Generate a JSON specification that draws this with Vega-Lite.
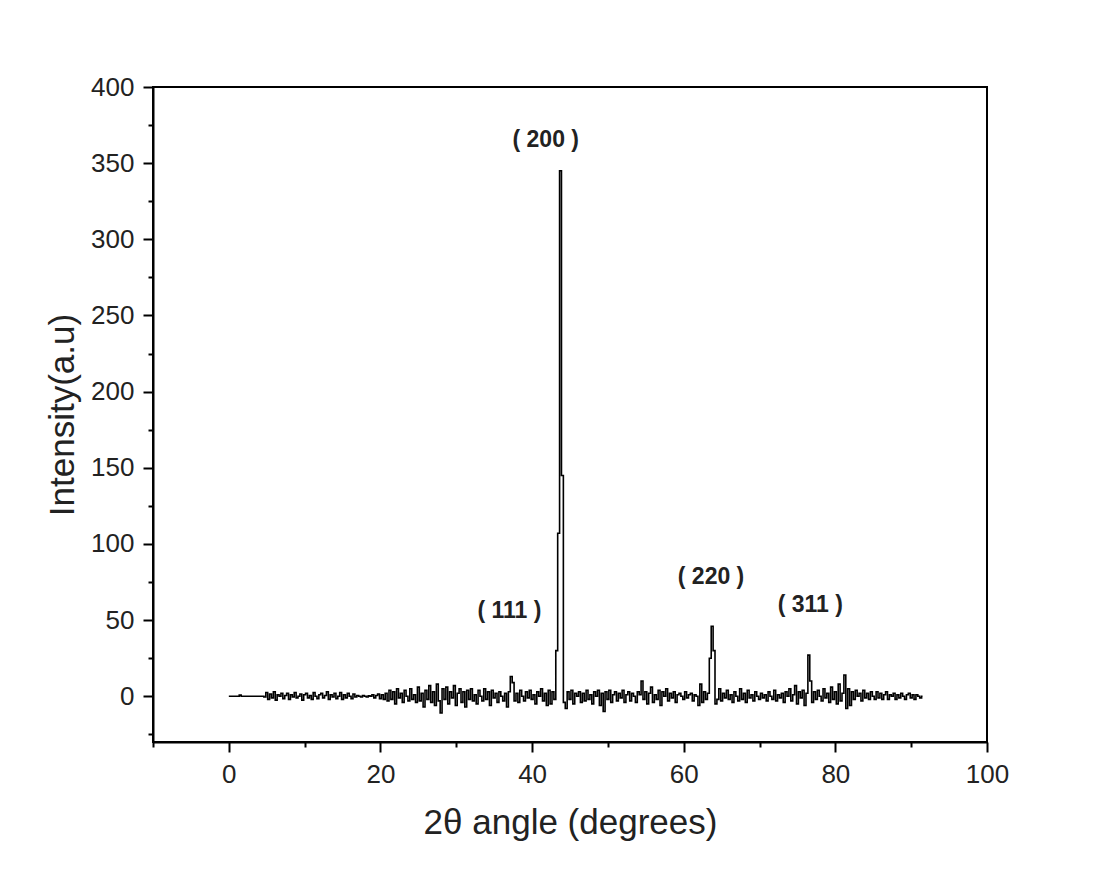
{
  "$schema": "https://vega.github.io/schema/vega-lite/v6.json",
  "width": 834,
  "height": 655,
  "autosize": {"type": "none"},
  "padding": {"left": 153, "top": 87, "right": 107, "bottom": 137},
  "background": "white",
  "config": {
    "view": {"stroke": "black", "strokeWidth": 2},
    "font": "Liberation Sans",
    "axis": {
      "grid": false,
      "domainColor": "black",
      "domainWidth": 2,
      "tickColor": "black",
      "tickWidth": 2,
      "labelColor": "#222",
      "titleColor": "#222",
      "labelFont": "Liberation Sans",
      "titleFont": "Liberation Sans",
      "labelFontSize": 26,
      "titleFontSize": 35,
      "titleFontWeight": "normal",
      "labelPadding": 9,
      "labelOverlap": false,
      "labelFlush": false
    }
  },
  "datasets": {
    "xrd": [
      {"angle":0,"intensity":0},{"angle":0.25,"intensity":0},{"angle":0.5,"intensity":0},{"angle":0.75,"intensity":0},{"angle":1,"intensity":0},{"angle":1.25,"intensity":0},{"angle":1.5,"intensity":0.8},{"angle":1.75,"intensity":0},{"angle":2,"intensity":0},{"angle":2.25,"intensity":0},{"angle":2.5,"intensity":0},{"angle":2.75,"intensity":0},{"angle":3,"intensity":0},{"angle":3.25,"intensity":0},{"angle":3.5,"intensity":0},{"angle":3.75,"intensity":0},{"angle":4,"intensity":0},{"angle":4.25,"intensity":0},{"angle":4.5,"intensity":0},{"angle":4.75,"intensity":-0.5},
      {"angle":5,"intensity":2.5},{"angle":5.25,"intensity":-2},{"angle":5.5,"intensity":1.5},{"angle":5.75,"intensity":-1},{"angle":6,"intensity":3},{"angle":6.25,"intensity":-2.5},{"angle":6.5,"intensity":1},{"angle":6.75,"intensity":0},{"angle":7,"intensity":2},{"angle":7.25,"intensity":-1.5},{"angle":7.5,"intensity":0.5},{"angle":7.75,"intensity":2},{"angle":8,"intensity":-2},{"angle":8.25,"intensity":1},{"angle":8.5,"intensity":-0.5},{"angle":8.75,"intensity":2.5},{"angle":9,"intensity":-1},{"angle":9.25,"intensity":0},{"angle":9.5,"intensity":1.5},{"angle":9.75,"intensity":-2.5},
      {"angle":10,"intensity":1},{"angle":10.25,"intensity":2},{"angle":10.5,"intensity":-1},{"angle":10.75,"intensity":0.5},{"angle":11,"intensity":-2},{"angle":11.25,"intensity":2.5},{"angle":11.5,"intensity":0},{"angle":11.75,"intensity":-1.5},{"angle":12,"intensity":1},{"angle":12.25,"intensity":2},{"angle":12.5,"intensity":-1},{"angle":12.75,"intensity":0.5},{"angle":13,"intensity":3},{"angle":13.25,"intensity":-2},{"angle":13.5,"intensity":1},{"angle":13.75,"intensity":-0.5},{"angle":14,"intensity":2},{"angle":14.25,"intensity":-1.5},{"angle":14.5,"intensity":0},{"angle":14.75,"intensity":2.5},
      {"angle":15,"intensity":-2},{"angle":15.25,"intensity":1},{"angle":15.5,"intensity":-1},{"angle":15.75,"intensity":2},{"angle":16,"intensity":0},{"angle":16.25,"intensity":-1.5},{"angle":16.5,"intensity":1.5},{"angle":16.75,"intensity":-0.5},{"angle":17,"intensity":0.5},{"angle":17.25,"intensity":0},{"angle":17.5,"intensity":-0.5},{"angle":17.75,"intensity":0.5},{"angle":18,"intensity":0},{"angle":18.25,"intensity":-0.5},{"angle":18.5,"intensity":0.3},{"angle":18.75,"intensity":0},{"angle":19,"intensity":1},{"angle":19.25,"intensity":-1},{"angle":19.5,"intensity":0.5},{"angle":19.75,"intensity":1.5},
      {"angle":20,"intensity":-1.5},{"angle":20.25,"intensity":1},{"angle":20.5,"intensity":-2},{"angle":20.75,"intensity":2},{"angle":21,"intensity":-3},{"angle":21.25,"intensity":4},{"angle":21.5,"intensity":-2},{"angle":21.75,"intensity":3},{"angle":22,"intensity":-5},{"angle":22.25,"intensity":5},{"angle":22.5,"intensity":-1},{"angle":22.75,"intensity":2},{"angle":23,"intensity":-4},{"angle":23.25,"intensity":4},{"angle":23.5,"intensity":0},{"angle":23.75,"intensity":-3},{"angle":24,"intensity":5},{"angle":24.25,"intensity":-2},{"angle":24.5,"intensity":1},{"angle":24.75,"intensity":-4},
      {"angle":25,"intensity":6},{"angle":25.25,"intensity":-3},{"angle":25.5,"intensity":2},{"angle":25.75,"intensity":-7},{"angle":26,"intensity":4},{"angle":26.25,"intensity":-2},{"angle":26.5,"intensity":7},{"angle":26.75,"intensity":-4},{"angle":27,"intensity":3},{"angle":27.25,"intensity":-6},{"angle":27.5,"intensity":8},{"angle":27.75,"intensity":-3},{"angle":28,"intensity":-11},{"angle":28.25,"intensity":5},{"angle":28.5,"intensity":-2},{"angle":28.75,"intensity":6},{"angle":29,"intensity":-5},{"angle":29.25,"intensity":3},{"angle":29.5,"intensity":-1},{"angle":29.75,"intensity":7},
      {"angle":30,"intensity":-6},{"angle":30.25,"intensity":2},{"angle":30.5,"intensity":5},{"angle":30.75,"intensity":-4},{"angle":31,"intensity":3},{"angle":31.25,"intensity":-7},{"angle":31.5,"intensity":4},{"angle":31.75,"intensity":-2},{"angle":32,"intensity":5},{"angle":32.25,"intensity":-3},{"angle":32.5,"intensity":1},{"angle":32.75,"intensity":-5},{"angle":33,"intensity":4},{"angle":33.25,"intensity":0},{"angle":33.5,"intensity":-3},{"angle":33.75,"intensity":5},{"angle":34,"intensity":-2},{"angle":34.25,"intensity":3},{"angle":34.5,"intensity":-6},{"angle":34.75,"intensity":4},
      {"angle":35,"intensity":-1},{"angle":35.25,"intensity":2},{"angle":35.5,"intensity":-4},{"angle":35.75,"intensity":3},{"angle":36,"intensity":0},{"angle":36.25,"intensity":-3},{"angle":36.5,"intensity":2},{"angle":36.75,"intensity":-7},{"angle":37,"intensity":3},{"angle":37.25,"intensity":13},{"angle":37.5,"intensity":9},{"angle":37.75,"intensity":-3},{"angle":38,"intensity":2},{"angle":38.25,"intensity":-4},{"angle":38.5,"intensity":4},{"angle":38.75,"intensity":0},{"angle":39,"intensity":-3},{"angle":39.25,"intensity":3},{"angle":39.5,"intensity":-1},{"angle":39.75,"intensity":4},
      {"angle":40,"intensity":-2},{"angle":40.25,"intensity":1},{"angle":40.5,"intensity":-5},{"angle":40.75,"intensity":3},{"angle":41,"intensity":0},{"angle":41.25,"intensity":5},{"angle":41.5,"intensity":-3},{"angle":41.75,"intensity":2},{"angle":42,"intensity":-6},{"angle":42.25,"intensity":4},{"angle":42.5,"intensity":-5},{"angle":42.75,"intensity":3},{"angle":43,"intensity":-2},{"angle":43.25,"intensity":30},{"angle":43.5,"intensity":107},{"angle":43.75,"intensity":345},{"angle":44,"intensity":145},{"angle":44.25,"intensity":-4},{"angle":44.5,"intensity":-8},{"angle":44.75,"intensity":3},
      {"angle":45,"intensity":-2},{"angle":45.25,"intensity":4},{"angle":45.5,"intensity":-5},{"angle":45.75,"intensity":2},{"angle":46,"intensity":0},{"angle":46.25,"intensity":3},{"angle":46.5,"intensity":-4},{"angle":46.75,"intensity":2},{"angle":47,"intensity":-3},{"angle":47.25,"intensity":4},{"angle":47.5,"intensity":-2},{"angle":47.75,"intensity":1},{"angle":48,"intensity":-5},{"angle":48.25,"intensity":3},{"angle":48.5,"intensity":0},{"angle":48.75,"intensity":4},{"angle":49,"intensity":-6},{"angle":49.25,"intensity":2},{"angle":49.5,"intensity":-10},{"angle":49.75,"intensity":3},
      {"angle":50,"intensity":-2},{"angle":50.25,"intensity":4},{"angle":50.5,"intensity":-4},{"angle":50.75,"intensity":1},{"angle":51,"intensity":3},{"angle":51.25,"intensity":-3},{"angle":51.5,"intensity":2},{"angle":51.75,"intensity":-1},{"angle":52,"intensity":4},{"angle":52.25,"intensity":-4},{"angle":52.5,"intensity":1},{"angle":52.75,"intensity":3},{"angle":53,"intensity":-3},{"angle":53.25,"intensity":2},{"angle":53.5,"intensity":0},{"angle":53.75,"intensity":-4},{"angle":54,"intensity":3},{"angle":54.25,"intensity":1},{"angle":54.5,"intensity":10},{"angle":54.75,"intensity":-2},
      {"angle":55,"intensity":3},{"angle":55.25,"intensity":-5},{"angle":55.5,"intensity":2},{"angle":55.75,"intensity":6},{"angle":56,"intensity":-4},{"angle":56.25,"intensity":1},{"angle":56.5,"intensity":-2},{"angle":56.75,"intensity":4},{"angle":57,"intensity":-6},{"angle":57.25,"intensity":3},{"angle":57.5,"intensity":0},{"angle":57.75,"intensity":5},{"angle":58,"intensity":-3},{"angle":58.25,"intensity":2},{"angle":58.5,"intensity":-1},{"angle":58.75,"intensity":3},{"angle":59,"intensity":-4},{"angle":59.25,"intensity":1},{"angle":59.5,"intensity":2},{"angle":59.75,"intensity":0},
      {"angle":60,"intensity":-2},{"angle":60.25,"intensity":3},{"angle":60.5,"intensity":-1},{"angle":60.75,"intensity":1},{"angle":61,"intensity":2},{"angle":61.25,"intensity":-3},{"angle":61.5,"intensity":1},{"angle":61.75,"intensity":0},{"angle":62,"intensity":-6},{"angle":62.25,"intensity":8},{"angle":62.5,"intensity":-4},{"angle":62.75,"intensity":3},{"angle":63,"intensity":-2},{"angle":63.25,"intensity":2},{"angle":63.5,"intensity":25},{"angle":63.75,"intensity":46},{"angle":64,"intensity":30},{"angle":64.25,"intensity":-5},{"angle":64.5,"intensity":-2},{"angle":64.75,"intensity":5},
      {"angle":65,"intensity":-3},{"angle":65.25,"intensity":2},{"angle":65.5,"intensity":-1},{"angle":65.75,"intensity":4},{"angle":66,"intensity":-2},{"angle":66.25,"intensity":1},{"angle":66.5,"intensity":-4},{"angle":66.75,"intensity":3},{"angle":67,"intensity":0},{"angle":67.25,"intensity":-3},{"angle":67.5,"intensity":5},{"angle":67.75,"intensity":-2},{"angle":68,"intensity":2},{"angle":68.25,"intensity":-4},{"angle":68.5,"intensity":4},{"angle":68.75,"intensity":-1},{"angle":69,"intensity":1},{"angle":69.25,"intensity":-3},{"angle":69.5,"intensity":3},{"angle":69.75,"intensity":0},
      {"angle":70,"intensity":-2},{"angle":70.25,"intensity":2},{"angle":70.5,"intensity":-1},{"angle":70.75,"intensity":1},{"angle":71,"intensity":-3},{"angle":71.25,"intensity":3},{"angle":71.5,"intensity":0},{"angle":71.75,"intensity":-2},{"angle":72,"intensity":4},{"angle":72.25,"intensity":-3},{"angle":72.5,"intensity":1},{"angle":72.75,"intensity":-1},{"angle":73,"intensity":2},{"angle":73.25,"intensity":-4},{"angle":73.5,"intensity":3},{"angle":73.75,"intensity":0},{"angle":74,"intensity":5},{"angle":74.25,"intensity":-3},{"angle":74.5,"intensity":1},{"angle":74.75,"intensity":7},
      {"angle":75,"intensity":-5},{"angle":75.25,"intensity":3},{"angle":75.5,"intensity":-1},{"angle":75.75,"intensity":4},{"angle":76,"intensity":-6},{"angle":76.25,"intensity":2},{"angle":76.5,"intensity":27},{"angle":76.75,"intensity":10},{"angle":77,"intensity":-4},{"angle":77.25,"intensity":3},{"angle":77.5,"intensity":-2},{"angle":77.75,"intensity":4},{"angle":78,"intensity":0},{"angle":78.25,"intensity":-3},{"angle":78.5,"intensity":5},{"angle":78.75,"intensity":-1},{"angle":79,"intensity":2},{"angle":79.25,"intensity":-4},{"angle":79.5,"intensity":6},{"angle":79.75,"intensity":-2},
      {"angle":80,"intensity":3},{"angle":80.25,"intensity":-5},{"angle":80.5,"intensity":8},{"angle":80.75,"intensity":-3},{"angle":81,"intensity":2},{"angle":81.25,"intensity":14},{"angle":81.5,"intensity":-8},{"angle":81.75,"intensity":5},{"angle":82,"intensity":-6},{"angle":82.25,"intensity":3},{"angle":82.5,"intensity":-2},{"angle":82.75,"intensity":4},{"angle":83,"intensity":0},{"angle":83.25,"intensity":2},{"angle":83.5,"intensity":-3},{"angle":83.75,"intensity":4},{"angle":84,"intensity":-1},{"angle":84.25,"intensity":2},{"angle":84.5,"intensity":-2},{"angle":84.75,"intensity":3},
      {"angle":85,"intensity":0},{"angle":85.25,"intensity":-2},{"angle":85.5,"intensity":3},{"angle":85.75,"intensity":-1},{"angle":86,"intensity":2},{"angle":86.25,"intensity":-2},{"angle":86.5,"intensity":1},{"angle":86.75,"intensity":3},{"angle":87,"intensity":-2},{"angle":87.25,"intensity":1},{"angle":87.5,"intensity":0},{"angle":87.75,"intensity":2},{"angle":88,"intensity":-2},{"angle":88.25,"intensity":1},{"angle":88.5,"intensity":-1},{"angle":88.75,"intensity":2},{"angle":89,"intensity":0},{"angle":89.25,"intensity":-2},{"angle":89.5,"intensity":1},{"angle":89.75,"intensity":2},
      {"angle":90,"intensity":-1},{"angle":90.25,"intensity":1},{"angle":90.5,"intensity":-2},{"angle":90.75,"intensity":1},{"angle":91,"intensity":0},{"angle":91.25,"intensity":-1},{"angle":91.5,"intensity":0}
    ],
    "labels": [
      {"label": "( 200 )", "angle": 41.8, "intensity": 365},
      {"label": "( 111 )", "angle": 37.0, "intensity": 56},
      {"label": "( 220 )", "angle": 63.6, "intensity": 78},
      {"label": "( 311 )", "angle": 76.7, "intensity": 60}
    ]
  },
  "encoding": {
    "x": {
      "field": "angle", "type": "quantitative",
      "scale": {"domain": [-10, 100], "nice": false, "zero": false},
      "axis": {
        "title": "2θ angle (degrees)",
        "values": [-10, 0, 10, 20, 30, 40, 50, 60, 70, 80, 90, 100],
        "labelExpr": "abs(datum.value % 20) < 0.001 ? datum.label : ''",
        "tickSize": {"condition": {"test": "abs(datum.value % 20) < 0.001", "value": 10}, "value": 5},
        "titlePadding": 18
      }
    },
    "y": {
      "field": "intensity", "type": "quantitative",
      "scale": {"domain": [-30, 400], "nice": false, "zero": false},
      "axis": {
        "title": "Intensity(a.u)",
        "values": [-25, 0, 25, 50, 75, 100, 125, 150, 175, 200, 225, 250, 275, 300, 325, 350, 375, 400],
        "labelExpr": "abs(datum.value % 50) < 0.001 ? datum.label : ''",
        "tickSize": {"condition": {"test": "abs(datum.value % 50) < 0.001", "value": 10}, "value": 5},
        "titlePadding": 10
      }
    }
  },
  "layer": [
    {
      "data": {"name": "xrd"},
      "mark": {"type": "line", "color": "black", "strokeWidth": 1.6, "interpolate": "step"}
    },
    {
      "data": {"name": "labels"},
      "mark": {"type": "text", "font": "Liberation Sans", "fontSize": 23, "fontWeight": "bold", "color": "#222", "align": "center", "baseline": "middle"},
      "encoding": {
        "text": {"field": "label"}
      }
    }
  ]
}
